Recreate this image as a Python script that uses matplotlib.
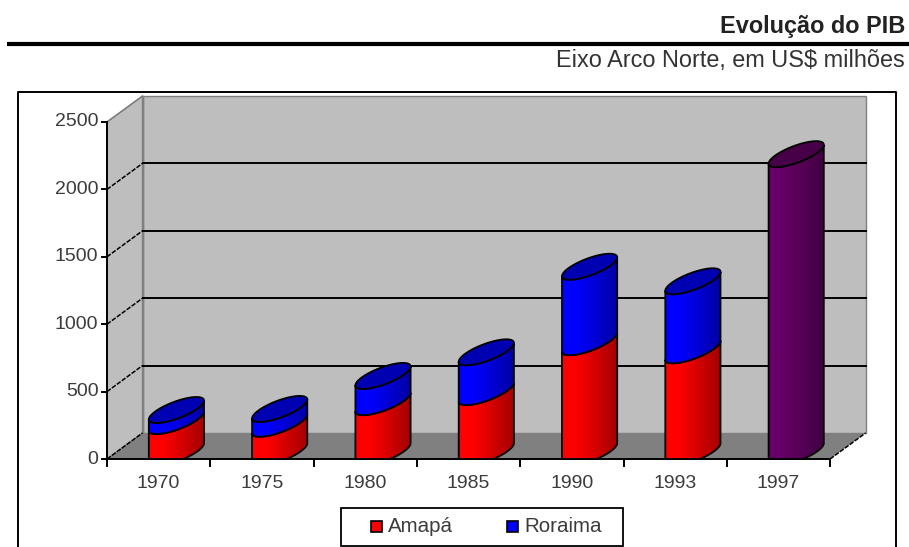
import numpy as np
import matplotlib
matplotlib.use('Agg')
import matplotlib.pyplot as plt
from matplotlib.patches import Polygon, Rectangle

plt.rcParams['font.family'] = ['Liberation Sans', 'DejaVu Sans']

years = ['1970', '1975', '1980', '1985', '1990', '1993', '1997']
amapa = [185, 165, 325, 400, 770, 710, 0]
roraima = [82, 110, 195, 295, 560, 512, 0]
arco_norte = [0, 0, 0, 0, 0, 0, 2165]
yticks = [0, 500, 1000, 1500, 2000, 2500]

PX_PER_CAT = 103.3
PX_PER_VAL = 0.1348
X0_PX = 107
Y0_PX = 459

# oblique depth vector of the 3D box, in data units
DX = 35.5 / PX_PER_CAT
DY = 26 / PX_PER_VAL
# cylinder top: half width and horizontal shear, in category units
BAR_A = 19 / PX_PER_CAT
BAR_SHEAR = 20 / PX_PER_CAT
BASE_DROP = 50  # cylinders start a little under the floor and get cut flat

RED = (1.0, 0.0, 0.0)
BLUE = (0.0, 0.0, 1.0)
PURPLE = (0.40, 0.0, 0.40)
WALL = '#bebebe'
FLOOR = '#808080'
TEXT = '#3c3c3c'

fig = plt.figure(figsize=(9.09, 5.47), dpi=100)
fig.patch.set_facecolor('white')

# page furniture is placed in pixels
chrome = fig.add_axes([0, 0, 1, 1])
chrome.set_xlim(0, 909)
chrome.set_ylim(547, 0)
chrome.axis('off')

ax = fig.add_axes([0, 0, 1, 1])
ax.axis('off')
ax.patch.set_alpha(0)

chrome.text(905, 27, 'Evolução do PIB', ha='right', va='center', fontsize=16.9, fontweight='bold', color='#222222')
chrome.plot([7, 909], [44, 44], color='black', lw=3, solid_capstyle='butt')
chrome.text(905, 60, 'Eixo Arco Norte, em US$ milhões', ha='right', va='center', fontsize=16.9, color='#333333')
chrome.plot([18, 18, 896, 896], [547, 92, 92, 547], color='black', lw=1.4)

n = len(years)
top = yticks[-1]

# walls and floor
ax.add_patch(Rectangle((DX, DY), n, top, fc=WALL, ec=FLOOR, lw=1, zorder=1))
ax.add_patch(Polygon([(0, 0), (0, top), (DX, top + DY), (DX, DY)], fc=WALL, ec=FLOOR, lw=1, zorder=1))
ax.add_patch(Polygon([(0, 0), (n, 0), (n + DX, DY), (DX, DY)], fc=FLOOR, ec='none', zorder=1))
ax.plot([DX, DX], [DY, top + DY], color=FLOOR, lw=1, zorder=2)

# gridlines run along the back wall and down the side wall
for v in yticks[1:-1]:
    ax.plot([DX, n + DX], [v + DY, v + DY], color='black', lw=1.4, zorder=2)
for v in yticks[:-1]:
    ax.plot([0, DX], [v, v + DY], color='black', lw=1.1, ls=(0, (3, 1)), zorder=2)
ax.plot([0, DX], [top, top + DY], color=FLOOR, lw=1, zorder=2)
ax.plot([n, n + DX], [0, DY], color='black', lw=1.1, ls=(0, (3, 1)), zorder=2)

# axes
ax.plot([0, 0], [0, top], color='black', lw=1.4, zorder=3)
ax.plot([0, n], [0, 0], color='black', lw=1.4, zorder=3)
for v in yticks:
    ax.plot([0, -5 / PX_PER_CAT], [v, v], color='black', lw=1.4, zorder=3)
    ax.text(-8.5 / PX_PER_CAT, v, str(v), ha='right', va='center', fontsize=14, color=TEXT)
for i in range(n + 1):
    ax.plot([i, i], [0, -7 / PX_PER_VAL], color='black', lw=1.4, zorder=3)
for i, year in enumerate(years):
    ax.text(i + 0.5, -25 / PX_PER_VAL, year, ha='center', va='center', fontsize=14, color=TEXT)


def ellipse_arc(i, value, t):
    # circle in the floor plane, sheared by the depth vector
    cx = i + 0.5 + DX / 2
    x = cx + BAR_A * np.cos(t) + BAR_SHEAR * np.sin(t)
    y = value + DY / 2 + DY / 2 * np.sin(t)
    return x, y


T_RIGHT = np.arctan2(BAR_SHEAR, BAR_A)
FRONT = np.linspace(T_RIGHT + np.pi, T_RIGHT + 2 * np.pi, 60)
WHOLE = np.linspace(0, 2 * np.pi, 120)


def draw_segment(i, bottom, height, color, zorder):
    x_low, y_low = ellipse_arc(i, bottom, FRONT)
    x_up, y_up = ellipse_arc(i, bottom + height, FRONT)
    if bottom <= 0:
        y_low = np.maximum(ellipse_arc(i, -BASE_DROP, FRONT)[1], 0)
    pts = np.column_stack([np.r_[x_low, x_up[::-1]], np.r_[y_low, y_up[::-1]]])

    ax.add_patch(Polygon(pts, fc='none', ec='black', lw=1.3, zorder=zorder + 0.1))

    # shaded left to right, full colour on the lit side
    ramp = np.clip((np.linspace(0, 1, 64) - 0.25) / 0.75, 0, 1)
    shade = 1 - 0.36 * ramp
    img = np.outer(shade, color).reshape(1, 64, 3)
    im = ax.imshow(img, extent=(pts[:, 0].min(), pts[:, 0].max(), pts[:, 1].min(), pts[:, 1].max()),
                   aspect='auto', interpolation='bilinear', zorder=zorder)
    im.set_clip_path(Polygon(pts, transform=ax.transData))


def draw_top(i, value, color, zorder):
    x, y = ellipse_arc(i, value, WHOLE)
    dark = tuple(c * 0.7 for c in color)
    ax.add_patch(Polygon(np.column_stack([x, y]), fc=dark, ec='black', lw=1.3, zorder=zorder))


for i in range(n):
    z = 4 + i
    if arco_norte[i] > 0:
        draw_segment(i, 0, arco_norte[i], PURPLE, z)
        draw_top(i, arco_norte[i], PURPLE, z + 0.2)
    else:
        draw_segment(i, 0, amapa[i], RED, z)
        draw_segment(i, amapa[i], roraima[i], BLUE, z + 0.2)
        draw_top(i, amapa[i] + roraima[i], BLUE, z + 0.4)

# imshow resets the limits, so they are set last
ax.set_xlim(-X0_PX / PX_PER_CAT, (909 - X0_PX) / PX_PER_CAT)
ax.set_ylim((Y0_PX - 547) / PX_PER_VAL, Y0_PX / PX_PER_VAL)

# legend box
chrome.add_patch(Rectangle((341, 508), 282, 38, fc='white', ec='black', lw=1.3))
chrome.add_patch(Rectangle((371, 521), 11, 11, fc=RED, ec='black', lw=1.2))
chrome.text(388, 526, 'Amapá', ha='left', va='center', fontsize=14.8, color=TEXT)
chrome.add_patch(Rectangle((507, 521), 11, 11, fc=BLUE, ec='black', lw=1.2))
chrome.text(524, 526, 'Roraima', ha='left', va='center', fontsize=14.8, color=TEXT)

fig.savefig('out.png', dpi=100)
